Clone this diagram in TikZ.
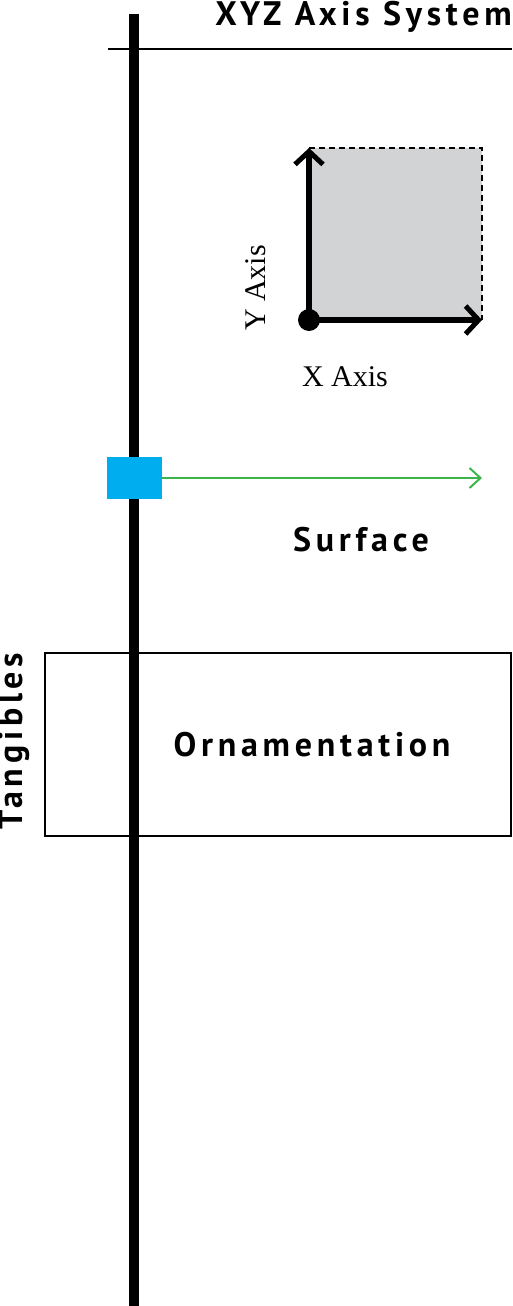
\documentclass[tikz,border=0pt]{standalone}
\usepackage{fontspec}
\setmainfont{Liberation Serif}
\newfontfamily\labelfont[LetterSpace=14]{PT Sans Bold}
\usepackage{tikz}
\usetikzlibrary{arrows.meta}
\usepackage{xcolor}
\definecolor{surfblue}{HTML}{00AEEF}
\definecolor{surfgreen}{HTML}{3AB54A}
\definecolor{planegray}{HTML}{D1D3D4}

\begin{document}
\begin{tikzpicture}[x=1pt, y=-1pt]
	    \tikzstyle{heading}=[font=\labelfont\fontsize{34}{36}\selectfont, inner sep=0pt]
	    \tikzstyle{axislabel}=[font=\fontsize{30}{32}\selectfont, inner sep=0pt]
	    \tikzstyle{axis}=[draw, line width = 6pt, -{Straight Barb[length=13pt, width=28pt, line width=5pt]}, black]
	    \tikzstyle{edge}=[draw, line width = 2pt, -, black]
	    \useasboundingbox (0,0) rectangle (512,1306);
	    % spine and title rule
	    \coordinate (top) at (134,14);
	    \coordinate (bot) at (134,1306);
	    \draw[line width = 10pt] (top) -- (bot);
	    \coordinate (rl) at (108,49);
	    \coordinate (rr) at (512,49);
	    \draw[edge] (rl) -- (rr);
	    \node[heading, anchor=east] (title) at (512,17) {XYZ Axis System};
	    % plane with axes
	    \coordinate (o) at (309,320);
	    \coordinate (xe) at (482,320);
	    \coordinate (ye) at (309,148);
	    \coordinate (c) at (482,148);
	    \fill[planegray] (o) rectangle (c);
	    \draw[line width = 2pt, dashed, dash pattern=on 6pt off 4pt] (ye) -- (c) -- (xe);
	    \draw[axis] (o) -- (xe);
	    \draw[axis] (o) -- (ye);
	    \node[circle, fill=black, minimum size=22pt, inner sep=0pt] (dot) at (o) {};
	    \node[axislabel] (xl) at (345,377) {X Axis};
	    \node[axislabel, rotate=90] (yl) at (256,288) {Y Axis};
	    % surface
	    \node[fill=surfblue, minimum width=55pt, minimum height=42pt, inner sep=0pt] (sq) at (134.5,478) {};
	    \coordinate (se) at (482,478);
	    \draw[surfgreen, line width = 2pt, -{Straight Barb[length=11pt, width=20pt, line width=2pt]}] (sq) -- (se);
	    \node[heading] (surf) at (361,540) {Surface};
	    % tangibles
	    \node[draw, line width = 2pt, minimum width=466pt, minimum height=183pt, inner sep=0pt] (box) at (277.5,744) {};
	    \node[heading] (orn) at (312,745) {Ornamentation};
	    \node[heading, rotate=90] (tang) at (14,741) {Tangibles};
	\end{tikzpicture}
\end{document}
